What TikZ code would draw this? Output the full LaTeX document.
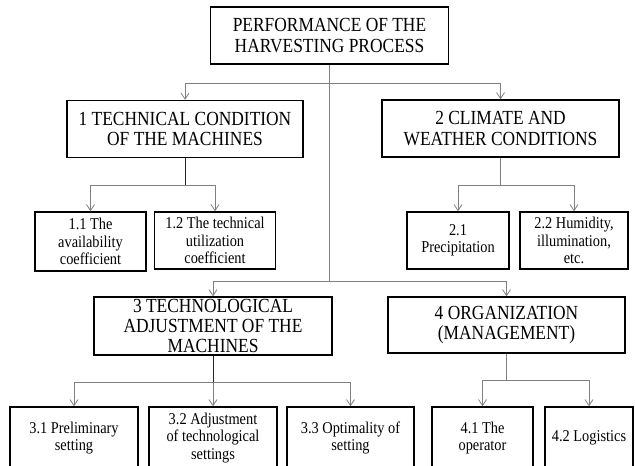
\documentclass[tikz,border=0pt]{standalone}
\usepackage{fontspec}
\setmainfont[FakeStretch=0.87]{Liberation Serif}
\usetikzlibrary{arrows.meta}
\begin{document}
\begin{tikzpicture}[x=1pt,y=-1pt,
  box/.style={draw=black,line width=1.5pt,inner sep=0pt,align=center,font=\fontsize{20}{20.5}\selectfont},
  sbox/.style={box,font=\fontsize{16.5}{17.5}\selectfont},
  conn/.style={draw=black!50,line width=0.8pt},
  dark/.style={draw=black!85,line width=0.9pt},
  arr/.style={conn,-{Straight Barb[length=6pt,width=8pt]}}]
\useasboundingbox (0,0) rectangle (635,466);
% level 0
\node[box,minimum width=238pt,minimum height=57pt] (top) at (329.5,35.5) {PERFORMANCE OF THE\\HARVESTING PROCESS};
% level 1
\node[box,minimum width=236pt,minimum height=57pt] (b1) at (185,129) {1 TECHNICAL CONDITION\\OF THE MACHINES};
\node[box,minimum width=237pt,minimum height=57pt] (b2) at (500.5,128.5) {2 CLIMATE AND\\WEATHER CONDITIONS};
% level 2
\node[sbox,minimum width=111pt,minimum height=59pt] (b11) at (90.5,241.5) {1.1 The\\availability\\coefficient};
\node[sbox,minimum width=121pt,minimum height=57pt] (b12) at (215,240.5) {1.2 The technical\\utilization\\coefficient};
\node[sbox,minimum width=102pt,minimum height=57pt] (b21) at (458,240.5) {2.1\\Precipitation};
\node[sbox,minimum width=108pt,minimum height=57pt] (b22) at (574,240.5) {2.2 Humidity,\\illumination,\\etc.};
% level 3
\node[box,minimum width=238pt,minimum height=58pt,font=\fontsize{20}{20}\selectfont] (b3) at (213,326) {3 TECHNOLOGICAL\\ADJUSTMENT OF THE\\MACHINES};
\node[box,minimum width=237pt,minimum height=56pt] (b4) at (506.5,325) {4 ORGANIZATION\\(MANAGEMENT)};
% level 4 (bottom edges fall just outside the picture)
\node[sbox,minimum width=128pt,minimum height=62pt] (b31) at (74,438) {3.1 Preliminary\\setting};
\node[sbox,minimum width=128pt,minimum height=62pt] (b32) at (213,438) {3.2 Adjustment\\of technological\\settings};
\node[sbox,minimum width=127pt,minimum height=62pt] (b33) at (350.5,438) {3.3 Optimality of\\setting};
\node[sbox,minimum width=101pt,minimum height=62pt] (b41) at (482.5,438) {4.1 The\\operator};
\node[sbox,minimum width=88pt,minimum height=62pt] (b42) at (589,438) {4.2 Logistics};
% connectors
\coordinate (hub) at (329.5,281);
\draw[conn] (top.south) -- (hub);
\draw[arr] (top.south) ++(0,19) -| (b1.north);
\draw[arr] (top.south) ++(0,19) -| (b2.north);
\draw[arr] (hub) -| (b3.north);
\draw[arr] (hub) -| (b4.north);
% group 1
\draw[dark] (b1.south) -- ++(0,27) coordinate (h1);
\draw[arr] (h1) -| (b11.north);
\draw[arr] (h1) -| (b12.north);
% group 2
\draw[conn] (b2.south) -- ++(0,28) coordinate (h2);
\draw[arr] (h2) -| (b21.north);
\draw[arr] (h2) -| (b22.north);
% group 3
\draw[dark] (b3.south) -- ++(0,27) coordinate (h3);
\draw[arr] (h3) -| (b31.north);
\draw[arr] (h3) -- (b32.north);
\draw[arr] (h3) -| (b33.north);
% group 4
\draw[conn] (b4.south) -- ++(0,27) coordinate (h4);
\draw[arr] (h4) -| (b41.north);
\draw[arr] (h4) -| (b42.north);
\end{tikzpicture}
\end{document}
